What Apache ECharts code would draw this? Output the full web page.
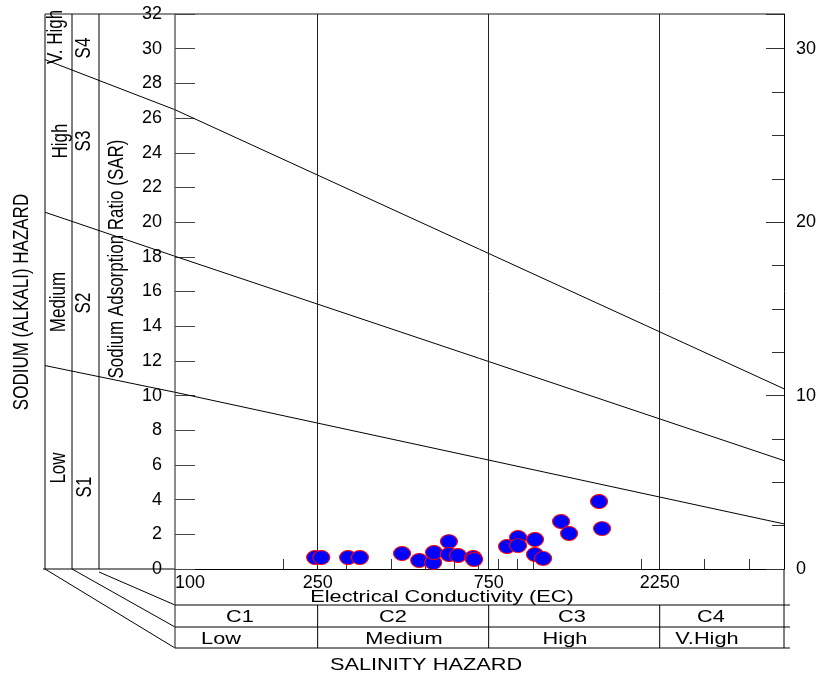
<!DOCTYPE html>
<html>
<head>
<meta charset="utf-8">
<script src="https://cdn.jsdelivr.net/npm/echarts@6/dist/echarts.min.js"></script>
<style>
html, body { margin: 0; padding: 0; background: #fff; }
#usslChart { width: 825px; height: 677px; }
</style>
</head>
<body>
<div id="usslChart"></div>
<script>
// samples: EC (x, log) and SAR (y)
var ecValues = [246, 256, 304, 328, 430, 480, 525, 528, 581, 581, 616, 679, 683,
	844, 906, 906, 1010, 1010, 1064, 1194, 1257, 1524, 1554];
var sarValues = [0.66, 0.66, 0.66, 0.66, 0.89, 0.49, 0.37, 0.95, 1.58, 0.84, 0.78, 0.66, 0.55,
	1.30, 1.82, 1.35, 1.70, 0.84, 0.61, 2.74, 2.05, 3.89, 2.33];

// sodium hazard boundaries at EC 100 and EC 5000
var boundaryEC = [100, 5000];
var lineS1S2 = [10.19, 2.60];
var lineS2S3 = [18.03, 6.25];
var lineS3S4 = [26.48, 10.39];
// where the same boundaries meet the outer edge of the left panel (SAR)
var panelEdgeSAR = [11.73, 20.57, 29.37];

// salinity class limits and axis ticks
var classBreaks = [250, 750, 2250];
var ecTickLabels = [100, 250, 750, 2250];
var ecMinorTicks = [200, 300, 400, 500, 600, 700, 800, 900, 1000, 2000, 3000, 4000];

var byId = function(id) {
	return document.getElementById(id);
};

var toPairs = function(xs, ys) {
	var out = [];
	for (var i = 0; i < xs.length; i++) {
		out.push([xs[i], ys[i]]);
	}
	return out;
};

var boundarySeries = function(vals) {
	return {
		type: 'line',
		data: toPairs(boundaryEC, vals),
		symbol: 'none',
		silent: true,
		z: 3,
		lineStyle: { color: '#000', width: 1 }
	};
};

var chart = echarts.init(byId('usslChart'));

var option = {
	animation: false,
	grid: { left: 175, right: 41, top: 14, bottom: 108 },
	xAxis: [{
		type: 'log',
		min: 100,
		max: 5000,
		axisLine: { lineStyle: { color: '#000', width: 1 } },
		axisTick: { customValues: ecMinorTicks, inside: true, length: 10, lineStyle: { color: '#333' } },
		minorTick: { show: false },
		splitLine: { show: false },
		axisLabel: {
			customValues: ecTickLabels,
			formatter: function(v) { return String(Math.round(v)); },
			alignMinLabel: 'left',
			margin: 5,
			fontFamily: 'Liberation Sans',
			fontSize: 18,
			color: '#000'
		}
	}],
	yAxis: [{
		type: 'value',
		min: 0,
		max: 32,
		interval: 2,
		position: 'left',
		axisLine: { show: true, lineStyle: { color: '#666', width: 1.5 } },
		axisTick: { inside: true, length: 20, lineStyle: { color: '#444' } },
		splitLine: { show: false },
		axisLabel: { margin: 13, fontFamily: 'Liberation Sans', fontSize: 18, color: '#000' }
	}, {
		type: 'value',
		min: 0,
		max: 32,
		interval: 10,
		position: 'right',
		axisLine: { show: true, lineStyle: { color: '#000', width: 1 } },
		axisTick: { inside: true, length: 18, lineStyle: { color: '#333' } },
		minorTick: { show: true, splitNumber: 4, length: 12, lineStyle: { color: '#333' } },
		splitLine: { show: false },
		axisLabel: { showMaxLabel: false, margin: 12, fontFamily: 'Liberation Sans', fontSize: 18, color: '#000' }
	}],
	series: [
		boundarySeries(lineS1S2),
		boundarySeries(lineS2S3),
		boundarySeries(lineS3S4),
		{
			type: 'scatter',
			data: toPairs(ecValues, sarValues),
			symbol: 'circle',
			symbolSize: [17, 14],
			z: 5,
			itemStyle: { color: '#0000ff', borderColor: '#ff0000', borderWidth: 1, opacity: 1 },
			markLine: {
				silent: true,
				symbol: 'none',
				label: { show: false },
				lineStyle: { color: '#222', width: 1, type: 'solid' },
				data: classBreaks.map(function(v) { return { xAxis: v }; })
			}
		}
	]
};
chart.setOption(option);

// frame, left hazard panel and salinity table
var px = function(ec) {
	return chart.convertToPixel({ xAxisIndex: 0 }, ec);
};
var py = function(sar) {
	return chart.convertToPixel({ yAxisIndex: 0 }, sar);
};
var xl = px(100), xr = px(5000), y0 = py(0), yTop = py(32);
var rowA = 605, rowB = 627, rowC = 648;
var ink = { stroke: '#000', lineWidth: 1 };
var grayInk = { stroke: '#666', lineWidth: 1.5 };

var seg = function(x1, y1, x2, y2, style) {
	return { type: 'line', silent: true, shape: { x1: x1, y1: y1, x2: x2, y2: y2 }, style: style || ink };
};
var txt = function(s, x, y, opts) {
	opts = opts || {};
	return {
		type: 'text',
		silent: true,
		x: x,
		y: y,
		rotation: opts.rot ? Math.PI / 2 : 0,
		scaleX: opts.rot ? 1 : 1.28,
		scaleY: opts.rot ? 1.28 : 1,
		style: {
			text: s,
			fill: '#000',
			font: '17px "Liberation Sans", Arial, sans-serif',
			textAlign: 'center',
			textVerticalAlign: 'middle'
		}
	};
};

var g = [];
// left panel
g.push(seg(45, yTop, xl, yTop, grayInk));
g.push(seg(45, yTop, 45, y0));
g.push(seg(72, yTop, 72, y0));
g.push(seg(99, yTop, 99, y0));
g.push(seg(43, y0, xl, y0));
g.push(seg(xl, yTop, xr, yTop, grayInk));
// boundaries carried across the left panel
[lineS1S2, lineS2S3, lineS3S4].forEach(function(vals, i) {
	g.push(seg(45, py(panelEdgeSAR[i]), xl, py(vals[0])));
});
// perspective lines to the table
g.push(seg(45, y0, xl, rowC));
g.push(seg(72, y0, xl, rowB));
g.push(seg(99, y0 + 3, xl, rowA));
// table
g.push(seg(xl, y0, xl, rowC, grayInk));
g.push(seg(xr, y0, xr, rowC));
g.push(seg(xl, rowA, xr + 6, rowA));
g.push(seg(xl, rowB, xr + 6, rowB));
g.push(seg(xl, rowC, xr + 6, rowC));
classBreaks.forEach(function(v) {
	g.push(seg(px(v), rowA, px(v), rowC));
});

g.push(txt('SODIUM (ALKALI) HAZARD', 22, 302, { rot: true }));
g.push(txt('V. High', 56, 37, { rot: true }));
g.push(txt('High', 61, 141, { rot: true }));
g.push(txt('Medium', 59, 302, { rot: true }));
g.push(txt('Low', 59, 468, { rot: true }));
g.push(txt('S4', 84, 48, { rot: true }));
g.push(txt('S3', 84, 141, { rot: true }));
g.push(txt('S2', 84, 303, { rot: true }));
g.push(txt('S1', 85, 487, { rot: true }));
g.push(txt('Sodium Adsorption Ratio (SAR)', 117, 259, { rot: true }));

g.push(txt('Electrical Conductivity (EC)', 442, 597));
g.push(txt('C1', 240, 617));
g.push(txt('C2', 393, 617));
g.push(txt('C3', 572, 617));
g.push(txt('C4', 711, 617));
g.push(txt('Low', 221, 639));
g.push(txt('Medium', 404, 639));
g.push(txt('High', 565, 639));
g.push(txt('V.High', 707, 639));
g.push(txt('SALINITY HAZARD', 426, 665));

chart.setOption({ graphic: g });
</script>
</body>
</html>
